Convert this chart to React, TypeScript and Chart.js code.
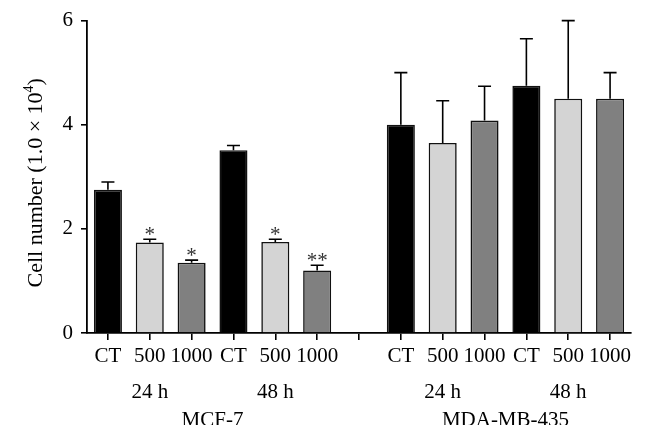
import React, { useEffect, useRef } from "react";
import { Chart, registerables } from "chart.js";

Chart.register(...registerables);

const categories = ["CT", "500", "1000", "CT", "500", "1000", "", "CT", "500", "1000", "CT", "500", "1000"];
const means = [2.75, 1.74, 1.35, 3.51, 1.75, 1.2, null, 4.0, 3.65, 4.08, 4.75, 4.5, 4.5];
const errors = [0.15, 0.06, 0.05, 0.09, 0.05, 0.1, null, 1.0, 0.81, 0.66, 0.9, 1.5, 0.5];
const stars = ["", "*", "*", "", "*", "**", "", "", "", "", "", "", ""];
const barColors = ["#000000", "#d4d4d4", "#808080", "#000000", "#d4d4d4", "#808080", "#ffffff", "#000000", "#d4d4d4", "#808080", "#000000", "#d4d4d4", "#808080"];
const timeLabels = ["24 h", "48 h", "24 h", "48 h"];
const timeLabelIndex = [1, 4, 8, 11];
const cellLines = ["MCF-7", "MDA-MB-435"];
const cellLineRange = [[0, 5], [7, 12]];
const yTicks = [0, 2, 4, 6];

const FONT = "'Liberation Serif', 'Times New Roman', serif";

const overlayPlugin = {
  id: "overlay",
  afterDatasetsDraw(chart: any) {
    const ctx = chart.ctx;
    const meta = chart.getDatasetMeta(0);
    const y = chart.scales.y;
    ctx.save();
    ctx.strokeStyle = "#000";
    ctx.lineWidth = 1.6;
    meta.data.forEach((bar: any, i: number) => {
      const m = means[i];
      const e = errors[i];
      if (m == null || e == null) return;
      const yTop = y.getPixelForValue(m);
      const yErr = y.getPixelForValue(m + e);
      ctx.beginPath();
      ctx.moveTo(bar.x, yTop);
      ctx.lineTo(bar.x, yErr);
      ctx.moveTo(bar.x - 6.5, yErr);
      ctx.lineTo(bar.x + 6.5, yErr);
      ctx.stroke();
      if (stars[i]) {
        ctx.fillStyle = "#333";
        ctx.font = `21px ${FONT}`;
        ctx.textAlign = "center";
        ctx.textBaseline = "alphabetic";
        ctx.fillText(stars[i], bar.x, yErr + 2);
      }
    });
    ctx.restore();
  },
  afterDraw(chart: any) {
    const ctx = chart.ctx;
    const x = chart.scales.x;
    const area = chart.chartArea;
    ctx.save();
    ctx.fillStyle = "#000";
    ctx.font = `21px ${FONT}`;
    ctx.textAlign = "center";
    ctx.textBaseline = "alphabetic";
    timeLabels.forEach((t, k) => {
      ctx.fillText(t, x.getPixelForValue(timeLabelIndex[k]), area.bottom + 65);
    });
    ctx.save();
    ctx.beginPath();
    ctx.rect(0, 0, chart.width, area.bottom + 92);
    ctx.clip();
    cellLines.forEach((t, k) => {
      const [a, b] = cellLineRange[k];
      const cx = (x.getPixelForValue(a) + x.getPixelForValue(b)) / 2;
      ctx.fillText(t, cx, area.bottom + 93);
    });
    ctx.restore();
    // y axis title
    const cy = (area.top + area.bottom) / 2 + 6;
    ctx.translate(42, cy);
    ctx.rotate(-Math.PI / 2);
    const main = "Cell number (1.0 \u00d7 10";
    ctx.font = `22px ${FONT}`;
    const wMain = ctx.measureText(main).width;
    ctx.font = `14px ${FONT}`;
    const wSup = ctx.measureText("4").width;
    ctx.font = `22px ${FONT}`;
    const wEnd = ctx.measureText(")").width;
    const total = wMain + wSup + wEnd;
    let px = -total / 2;
    ctx.textAlign = "left";
    ctx.fillText(main, px, 0);
    px += wMain;
    ctx.font = `14px ${FONT}`;
    ctx.fillText("4", px, -9);
    px += wSup;
    ctx.font = `22px ${FONT}`;
    ctx.fillText(")", px, 0);
    ctx.restore();
  },
};

export default function App() {
  const ref = useRef<HTMLCanvasElement | null>(null);
  useEffect(() => {
    if (!ref.current) return;
    const chart = new Chart(ref.current, {
      type: "bar",
      data: {
        labels: categories,
        datasets: [
          {
            data: means as any,
            backgroundColor: barColors,
            borderColor: "#111",
            borderWidth: 1.6,
            barPercentage: 0.67,
            categoryPercentage: 1,
          },
        ],
      },
      options: {
        animation: false,
        responsive: false,
        maintainAspectRatio: false,
        layout: { padding: { top: 20, right: 14, left: 0, bottom: 0 } },
        plugins: { legend: { display: false }, tooltip: { enabled: false } },
        scales: {
          x: {
            offset: true,
            grid: { display: true, offset: false, drawOnChartArea: false, drawTicks: true, tickLength: 7, color: "#000", lineWidth: 1.6 },
            border: { display: true, color: "#000", width: 1.8 },
            ticks: { color: "#000", font: { family: FONT, size: 21 }, padding: 4, autoSkip: false, maxRotation: 0 },
            afterFit(scale: any) {
              scale.height = 105;
            },
          },
          y: {
            min: 0,
            max: 6,
            afterBuildTicks(scale: any) {
              scale.ticks = yTicks.map((v) => ({ value: v }));
            },
            grid: { display: true, drawOnChartArea: false, drawTicks: true, tickLength: 6, color: "#000", lineWidth: 1.6 },
            border: { display: true, color: "#000", width: 1.8 },
            ticks: { color: "#000", font: { family: FONT, size: 21 }, padding: 8 },
            afterFit(scale: any) {
              scale.width = 87;
            },
          },
        },
      },
      plugins: [overlayPlugin],
    });
    return () => chart.destroy();
  }, []);
  return (
    <div style={{ position: "absolute", left: 0, top: 0, width: 645, height: 438, background: "#fff" }}>
      <canvas ref={ref} width={645} height={438} style={{ width: 645, height: 438 }} />
    </div>
  );
}
